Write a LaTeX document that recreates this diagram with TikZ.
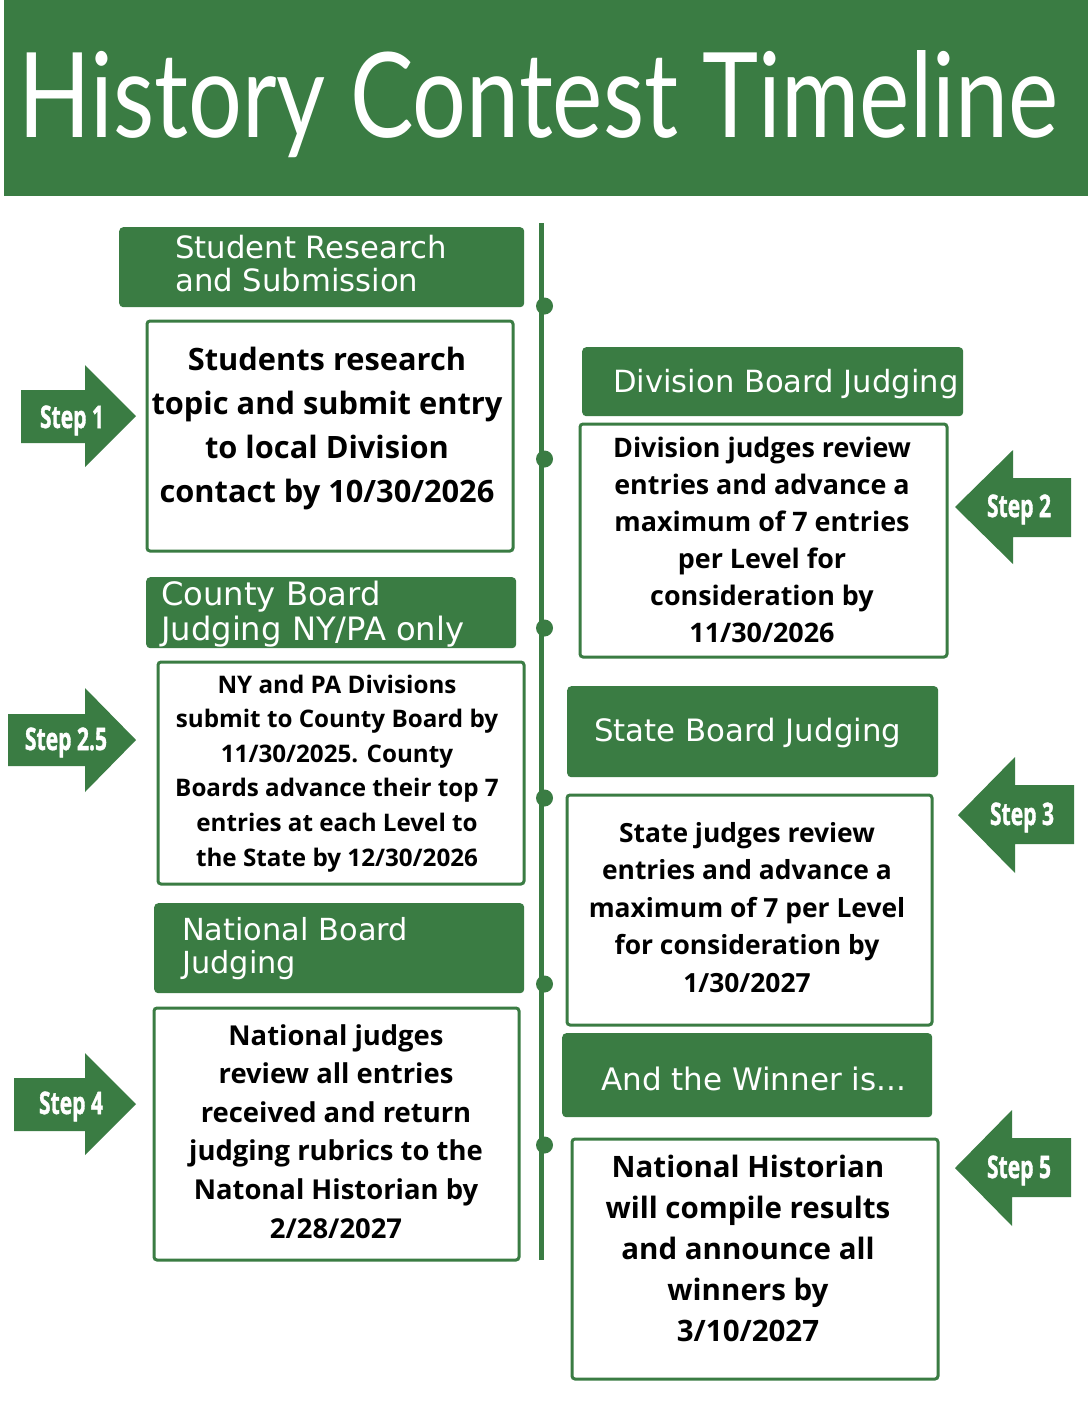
\documentclass[tikz,border=0pt]{standalone}
\usepackage{fontspec}
\usepackage{graphicx}
\setmainfont{Open Sans}
\newfontfamily\hdfont{DejaVu Sans}
\newfontfamily\titlefont{Lato}
\newfontfamily\stepfont{Open Sans}[BoldFeatures={FakeBold=1.6}]
\definecolor{gr}{RGB}{58,124,67}
\newcommand\ctrlines[2]{\vtop{\baselineskip=#1\lineskiplimit=-1000pt\lineskip=0pt\halign{\hfil##\hfil\cr#2\crcr}}}
\newcommand\leftlines[2]{\vtop{\baselineskip=#1\lineskiplimit=-1000pt\lineskip=0pt\halign{##\hfil\cr#2\crcr}}}
\tikzset{
  hdbox/.style={fill=gr, draw=none, rounded corners=4pt, inner sep=0pt, anchor=north west},
  bdbox/.style={draw=gr, line width=3pt, fill=white, rounded corners=3pt, inner sep=0pt, anchor=north west},
  hdtext/.style={text=white, inner sep=0pt, anchor=base west, font=\hdfont\fontsize{#1}{#1}\selectfont},
  bdtext/.style={text=black, inner sep=0pt, anchor=base, font=\bfseries\fontsize{#1}{#1}\selectfont},
  steparrow/.style={fill=gr, draw=none},
  steptext/.style={text=white, inner sep=0pt, anchor=base, font=\stepfont\bfseries\fontsize{31}{31}\selectfont},
  tldot/.style={circle, fill=gr, draw=none, inner sep=0pt, minimum size=17pt},
  tlline/.style={draw=gr, line width=4.5pt}
}
\begin{document}
\begin{tikzpicture}[x=1pt, y=-1pt]
\fill[white] (0,0) rectangle (1088,1408);
\useasboundingbox (0,0) rectangle (1088,1408);

% header band
\node[fill=gr, draw=none, inner sep=0pt, anchor=north west, minimum width=1084pt, minimum height=196pt] (band) at (4,0) {};
\node[text=white, inner sep=0pt, anchor=base west, font=\titlefont\fontsize{100}{100}\selectfont] (title) at (18,137) {\resizebox{1040pt}{87pt}{History Contest Timeline}};

% timeline
\coordinate (tltop) at (541.5,223);
\coordinate (tlbot) at (541.5,1260);
\draw[tlline] (tltop) -- (tlbot);
\node[tldot] (d1) at (544.5,306) {};
\node[tldot] (d2) at (544.5,459) {};
\node[tldot] (d3) at (544.5,628) {};
\node[tldot] (d4) at (544.5,798) {};
\node[tldot] (d5) at (544.5,984) {};
\node[tldot] (d6) at (544.5,1145) {};

% left column boxes
\node[hdbox, minimum width=405pt, minimum height=80pt] (h1) at (119,227) {};
\node[hdtext=30.7] (h1t) at (175,258) {\leftlines{33pt}{Student Research\cr and Submission}};
\node[bdbox, minimum width=366pt, minimum height=230pt] (b1) at (145.5,319.5) {};
\node[bdtext=30.8] (b1t) at (327,370) {\ctrlines{44pt}{Students research\cr topic and submit entry\cr to local Division\cr contact by 10/30/2026}};

\node[hdbox, minimum width=370pt, minimum height=71pt] (h2) at (146,577) {};
\node[hdtext=32.2] (h2t) at (161,605) {\leftlines{35pt}{County Board\cr Judging NY/PA only}};
\node[bdbox, minimum width=366pt, minimum height=222pt] (b25) at (156.5,660.5) {};
\node[bdtext=24.2] (b25t) at (337,693) {\ctrlines{34.6pt}{NY and PA Divisions\cr submit to County Board by\cr 11/30/2025. County\cr Boards advance their top 7\cr entries at each Level to\cr the State by 12/30/2026}};

\node[hdbox, minimum width=370pt, minimum height=90pt] (h3) at (154,903) {};
\node[hdtext=30.4] (h3t) at (182,940) {\leftlines{33pt}{National Board\cr Judging}};
\node[bdbox, minimum width=365pt, minimum height=252pt] (b4) at (152.5,1006.5) {};
\node[bdtext=27.4] (b4t) at (336,1045) {\ctrlines{38.6pt}{National judges\cr review all entries\cr received and return\cr judging rubrics to the\cr Natonal Historian by\cr 2/28/2027}};

% right column boxes
\node[hdbox, minimum width=381pt, minimum height=69pt] (h4) at (582,347) {};
\node[hdtext=30.6] (h4t) at (613,392) {Division Board Judging};
\node[bdbox, minimum width=367pt, minimum height=233pt] (b2) at (578.5,422.5) {};
\node[bdtext=26.9] (b2t) at (762,457) {\ctrlines{37pt}{Division judges review\cr entries and advance a\cr maximum of 7 entries\cr per Level for\cr consideration by\cr 11/30/2026}};

\node[hdbox, minimum width=371pt, minimum height=91pt] (h5) at (567,686) {};
\node[hdtext=30.8] (h5t) at (594,741) {State Board Judging};
\node[bdbox, minimum width=365pt, minimum height=230pt] (b3) at (565.5,793.5) {};
\node[bdtext=26.4] (b3t) at (747,842) {\ctrlines{37.5pt}{State judges review\cr entries and advance a\cr maximum of 7 per Level\cr for consideration by\cr 1/30/2027}};

\node[hdbox, minimum width=370pt, minimum height=84pt] (h6) at (562,1033) {};
\node[hdtext=31] (h6t) at (601,1090) {And the Winner is...};
\node[bdbox, minimum width=366pt, minimum height=240pt] (b5) at (570.5,1137.5) {};
\node[bdtext=29.5] (b5t) at (748,1177) {\ctrlines{41pt}{National Historian\cr will compile results\cr and announce all\cr winners by\cr 3/10/2027}};

% step arrows
\fill[steparrow] (21,390) -- (85,390) -- (85,365) -- (136,416) -- (85,467) -- (85,443) -- (21,443) -- cycle;
\node[steptext] (s1) at (72,428) {\scalebox{0.68}[1]{Step 1}};
\fill[steparrow] (8,714) -- (85,714) -- (85,688) -- (136,740) -- (85,792) -- (85,766) -- (8,766) -- cycle;
\node[steptext] (s25) at (66,750) {\scalebox{0.68}[1]{Step 2.5}};
\fill[steparrow] (14,1078) -- (85,1078) -- (85,1053) -- (136,1104) -- (85,1155) -- (85,1131) -- (14,1131) -- cycle;
\node[steptext] (s4) at (71,1114) {\scalebox{0.68}[1]{Step 4}};
\fill[steparrow] (1071,478) -- (1013,478) -- (1013,450) -- (955,507) -- (1013,564) -- (1013,537) -- (1071,537) -- cycle;
\node[steptext] (s2) at (1019,517) {\scalebox{0.68}[1]{Step 2}};
\fill[steparrow] (1074,785) -- (1015,785) -- (1015,757) -- (958,815) -- (1015,873) -- (1015,844) -- (1074,844) -- cycle;
\node[steptext] (s3) at (1022,825) {\scalebox{0.68}[1]{Step 3}};
\fill[steparrow] (1071,1138) -- (1012,1138) -- (1012,1110) -- (955,1168) -- (1012,1226) -- (1012,1197) -- (1071,1197) -- cycle;
\node[steptext] (s5) at (1019,1178) {\scalebox{0.68}[1]{Step 5}};
\end{tikzpicture}
\end{document}
